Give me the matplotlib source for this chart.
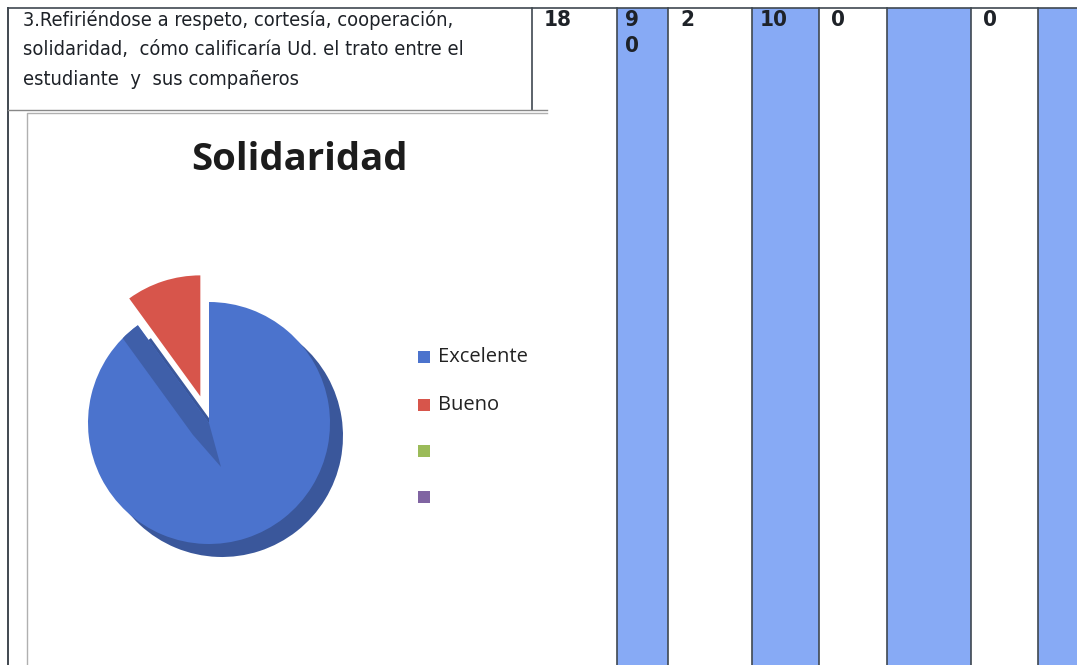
import numpy as np
import matplotlib
matplotlib.use("Agg")
import matplotlib.pyplot as plt
from matplotlib import font_manager
from matplotlib.patches import Rectangle, Polygon

# data
categories = ["Excelente", "Bueno", "", ""]
freq = [18, 2, 0, 0]
pct = ["9\n0", "10", "", ""]
question = ["3.Refiriéndose a respeto, cortesía, cooperación,",
            "solidaridad,  cómo calificaría Ud. el trato entre el",
            "estudiante  y  sus compañeros"]
title = "Solidaridad"

face_colors = ["#4B73CD", "#D7554B", "#9BBB59", "#8064A2"]
side_color = "#3A579B"
col_blue = "#87AAF5"
line_col = "#404850"

W, H = 1077, 665
fig = plt.figure(figsize=(W / 100, H / 100), dpi=100)
ax = fig.add_axes([0, 0, 1, 1])


def Y(y):
    return H - y


# narrow font for the table, whatever is installed
fonts = font_manager.fontManager.ttflist
names = {f.name for f in fonts}
if "Liberation Sans Narrow" in names:
    cond = dict(family=["Liberation Sans Narrow", "DejaVu Sans"])
    qsize = 16
elif any(f.name == "DejaVu Sans" and f.stretch == "condensed" for f in fonts):
    cond = dict(family=["DejaVu Sans"], stretch="condensed")
    qsize = 14.4
else:
    cond = dict(family=["Roboto", "DejaVu Sans"])
    qsize = 14.4
ink = "#1e2228"

# table columns: freq / pct pairs, pct columns shaded
col_edges = [532, 617, 668, 752, 819, 887, 971, 1038, 1077]
for i in range(4):
    x0, x1, x2 = col_edges[2 * i], col_edges[2 * i + 1], col_edges[2 * i + 2]
    ax.add_patch(Rectangle((x1, 0), x2 - x1, Y(8), facecolor=col_blue,
                           edgecolor="none", zorder=1))
    ax.text(x0 + 12, Y(10), str(freq[i]), fontsize=16, fontweight="bold",
            va="top", ha="left", color=ink, linespacing=1.4, zorder=5, **cond)
    ax.text(x1 + 8, Y(10), pct[i], fontsize=16, fontweight="bold",
            va="top", ha="left", color=ink, linespacing=1.4, zorder=5, **cond)

for x in col_edges[1:-1]:
    ax.plot([x, x], [0, Y(8)], color=line_col, lw=1.2, zorder=2)
ax.plot([532, 532], [Y(110), Y(8)], color=line_col, lw=1.2, zorder=2)
ax.plot([8, W], [Y(8), Y(8)], color=line_col, lw=1.2, zorder=2)
ax.plot([8, 8], [0, Y(8)], color=line_col, lw=1.4, zorder=2)
ax.plot([8, 547], [Y(110), Y(110)], color="#888888", lw=1.0, zorder=2)

# question text
for k, line in enumerate(question):
    ax.text(23, Y(10 + 30 * k), line, fontsize=qsize, va="top", ha="left",
            color=ink, zorder=5, **cond)

# chart frame
ax.plot([27, 27, 547], [0, Y(113), Y(113)], color="#b0b0b0", lw=1.0, zorder=2)

ax.text(299, Y(160), title, family=["Open Sans", "DejaVu Sans"], fontsize=27.5,
        fontweight="bold", ha="center", va="center", color="#1c1c1c", zorder=5)

# pie: darker side first, then the face
cx, cy, r = 209, Y(423), 121
explode = [0, 28, 0, 0]
ax.pie(freq, colors=[side_color, "none", "none", "none"], startangle=90,
       counterclock=False, radius=r, center=(cx + 13, cy - 13),
       explode=explode, frame=True, wedgeprops=dict(linewidth=0))
face, _ = ax.pie(freq, colors=face_colors, startangle=90, counterclock=False,
                 radius=r, center=(cx, cy), explode=explode, frame=True,
                 wedgeprops=dict(linewidth=0))

# shaded wall along the cut edge of the big slice
t = np.deg2rad(90 - 360 * freq[0] / sum(freq))
d = np.array([np.cos(t), np.sin(t)])
n = np.array([-np.sin(t), np.cos(t)])
A = np.array([cx, cy])
band = Polygon([A + r * d, A, A + np.array([12, -44]), A + 20 * n,
                A + r * d + 20 * n], closed=True, facecolor=side_color,
               edgecolor="none", alpha=0.7, zorder=face[0].get_zorder() + 0.1)
ax.add_patch(band)
band.set_clip_path(face[0])

ax.set_xlim(0, W)
ax.set_ylim(0, H)
ax.set_aspect("auto")
ax.axis("off")

# legend
leg_y = [357, 405, 451, 497]
for lab, c, yy in zip(categories, face_colors, leg_y):
    ax.add_patch(Rectangle((418, Y(yy) - 6), 12, 12, facecolor=c,
                           edgecolor="none", zorder=5))
    ax.text(438, Y(yy), lab, family=["Open Sans", "DejaVu Sans"], fontsize=14.5,
            ha="left", va="center", color="#222222", zorder=5)

fig.savefig("out.png", dpi=100)
